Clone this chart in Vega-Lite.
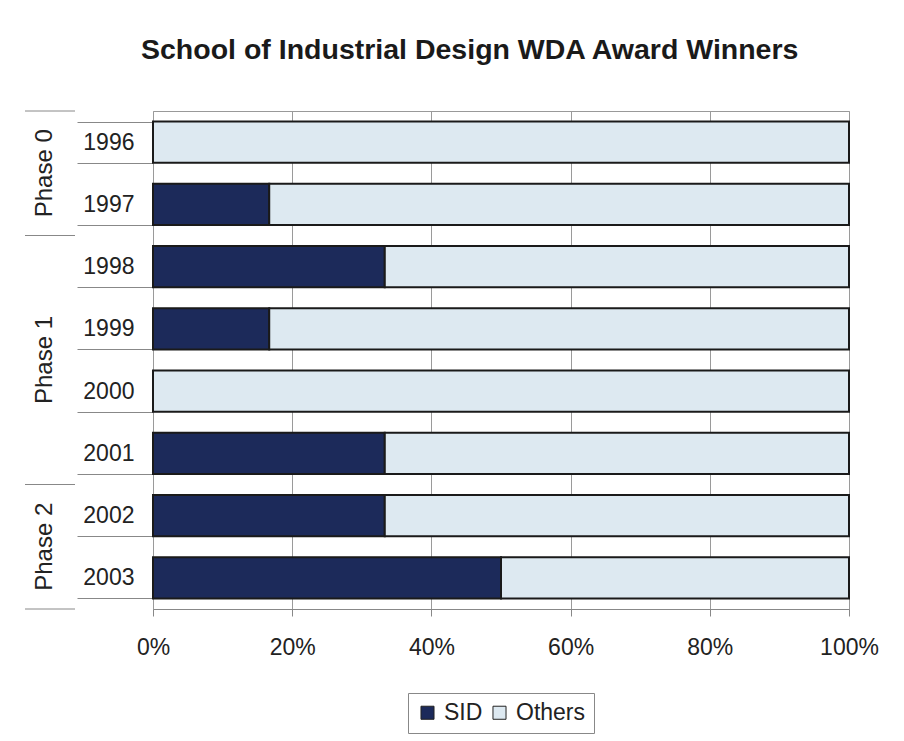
{
  "$schema": "https://vega.github.io/schema/vega-lite/v6.json",
  "padding": {"left": 24, "top": 36, "right": 20, "bottom": 5},
  "background": "white",
  "config": {
    "font": "Liberation Sans",
    "view": {"stroke": "#999999", "strokeWidth": 1},
    "concat": {"spacing": 0}
  },
  "title": {
    "text": "School of Industrial Design WDA Award Winners",
    "fontSize": 28.5,
    "fontWeight": "bold",
    "color": "#1a1a1a",
    "anchor": "middle",
    "offset": 35,
    "dx": 18
  },
  "datasets": {
    "bars": [
      {"year": "1996", "series": "SID", "share": 0},
      {"year": "1996", "series": "Others", "share": 100},
      {"year": "1997", "series": "SID", "share": 16.7},
      {"year": "1997", "series": "Others", "share": 83.3},
      {"year": "1998", "series": "SID", "share": 33.3},
      {"year": "1998", "series": "Others", "share": 66.7},
      {"year": "1999", "series": "SID", "share": 16.7},
      {"year": "1999", "series": "Others", "share": 83.3},
      {"year": "2000", "series": "SID", "share": 0},
      {"year": "2000", "series": "Others", "share": 100},
      {"year": "2001", "series": "SID", "share": 33.3},
      {"year": "2001", "series": "Others", "share": 66.7},
      {"year": "2002", "series": "SID", "share": 33.3},
      {"year": "2002", "series": "Others", "share": 66.7},
      {"year": "2003", "series": "SID", "share": 50},
      {"year": "2003", "series": "Others", "share": 50}
    ],
    "phases": [
      {"phase": "Phase 0", "midYear": "1996", "lastYear": "1997"},
      {"phase": "Phase 1", "midYear": "1999", "lastYear": "2001"},
      {"phase": "Phase 2", "midYear": "2002", "lastYear": "2003"}
    ]
  },
  "resolve": {"scale": {"y": "independent", "x": "independent"}},
  "hconcat": [
    {
      "width": 50,
      "height": 498,
      "view": {"stroke": null},
      "data": {"name": "phases"},
      "layer": [
        {
          "mark": {"type": "text", "angle": 270, "fontSize": 24, "color": "#222222", "align": "center", "baseline": "middle", "dy": -5},
          "encoding": {
            "y": {"field": "midYear", "type": "nominal", "bandPosition": 1,
                  "scale": {"domain": ["1996","1997","1998","1999","2000","2001","2002","2003"], "paddingInner": 0, "paddingOuter": 0},
                  "axis": null},
            "text": {"field": "phase"}
          }
        },
        {
          "mark": {"type": "rule", "color": "#888888", "strokeWidth": 1},
          "encoding": {
            "y": {"field": "lastYear", "type": "nominal", "bandPosition": 1}
          }
        },
        {
          "transform": [{"filter": "datum.phase === 'Phase 0'"}],
          "mark": {"type": "rule", "color": "#888888", "strokeWidth": 1},
          "encoding": {
            "y": {"field": "midYear", "type": "nominal", "bandPosition": 0}
          }
        }
      ]
    },
    {
      "width": 696,
      "height": 498,
      "data": {"name": "bars"},
      "mark": {"type": "bar", "stroke": "#1a1a1a", "strokeWidth": 2},
      "encoding": {
        "y": {
          "field": "year", "type": "nominal", "sort": null,
          "scale": {"paddingInner": 0.34, "paddingOuter": 0.17},
          "axis": {
            "title": null, "domain": false, "grid": false,
            "tickBand": "extent", "tickSize": 76, "tickColor": "#888888", "tickWidth": 1,
            "labelPadding": -57, "labelFontSize": 23, "labelColor": "#222222",
            "minExtent": 76, "maxExtent": 76
          }
        },
        "x": {
          "field": "share", "type": "quantitative", "stack": "normalize",
          "axis": {
            "title": null, "format": ".0%", "values": [0, 0.2, 0.4, 0.6, 0.8, 1],
            "grid": true, "gridColor": "#9a9a9a", "gridWidth": 1, "gridOpacity": 1,
            "domainColor": "#888888", "tickColor": "#888888", "tickSize": 7,
            "labelFontSize": 23, "labelColor": "#222222", "labelPadding": 20, "labelFlush": false
          }
        },
        "order": {"field": "series", "sort": "descending"},
        "color": {
          "field": "series", "type": "nominal",
          "scale": {"domain": ["SID", "Others"], "range": ["#1c2a5a", "#dde9f1"]},
          "legend": {
            "title": null, "orient": "none", "direction": "horizontal",
            "legendX": 383, "legendY": 582,
            "strokeColor": "#888888", "padding": 8, "fillColor": "white",
            "symbolType": "square", "symbolSize": 170, "symbolStrokeColor": "#222222", "symbolStrokeWidth": 1,
            "labelFontSize": 23, "labelColor": "#222222", "columnPadding": 5, "labelOffset": 5
          }
        }
      }
    }
  ]
}
